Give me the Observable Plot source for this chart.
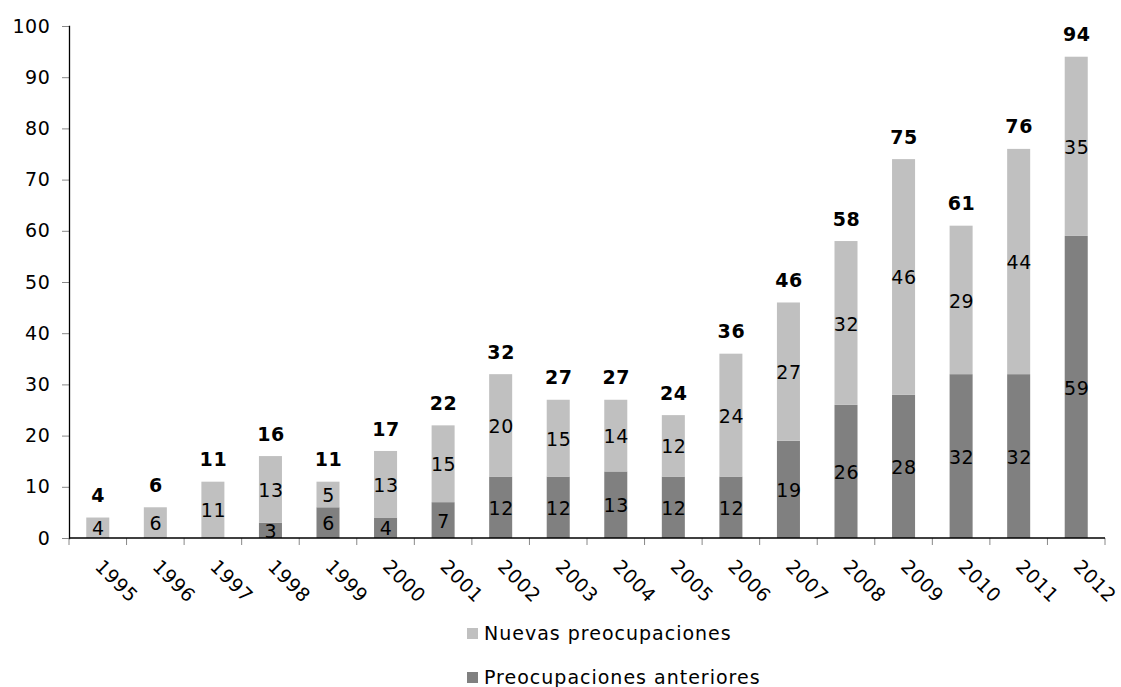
<!DOCTYPE html>
<html>
<head>
<meta charset="utf-8">
<script src="https://cdn.jsdelivr.net/npm/d3@7"></script>
<script src="https://cdn.jsdelivr.net/npm/@observablehq/plot@0.6"></script>
<style>
  body { margin: 0; background: #fff; font-family: "DejaVu Sans", Verdana, sans-serif; }
  #wrap { position: relative; width: 1121px; height: 687px; }
  .legend { position: absolute; left: 467px; font-size: 19px; letter-spacing: 1px; color: #000; display: flex; align-items: center; line-height: 24px; }
  .sw { width: 11px; height: 11px; margin-right: 6px; display: inline-block; }
</style>
</head>
<body>
<div id="wrap"></div>
<script>
const years = ["1995","1996","1997","1998","1999","2000","2001","2002","2003","2004","2005","2006","2007","2008","2009","2010","2011","2012"];
const anteriores = [0,0,0,3,6,4,7,12,12,13,12,12,19,26,28,32,32,59];
const nuevas = [4,6,11,13,5,13,15,20,15,14,12,24,27,32,46,29,44,35];
const totals = [4,6,11,16,11,17,22,32,27,27,24,36,46,58,75,61,76,94];
const seriesNames = ["Preocupaciones anteriores", "Nuevas preocupaciones"];
const seriesColors = ["#808080", "#c0c0c0"];
const yTicks = [0,10,20,30,40,50,60,70,80,90,100];

const data = [];
years.forEach((y, i) => {
  data.push({year: y, series: seriesNames[0], value: anteriores[i]});
  data.push({year: y, series: seriesNames[1], value: nuevas[i]});
});
const totalData = years.map((y, i) => ({year: y, stackTop: anteriores[i] + nuevas[i], total: totals[i]}));

function boundaryTicks(index, scales, values, dimensions) {
  const g = d3.create("svg:g");
  const x = scales.x;
  const step = x.step();
  const y0 = scales.y(0);
  const dom = x.domain();
  const gap = (step - x.bandwidth()) / 2;
  const xs = dom.map(d => x(d) - gap);
  xs.push(x(dom[dom.length - 1]) + x.bandwidth() + gap);
  xs.forEach(px => {
    g.append("line").attr("x1", px).attr("x2", px).attr("y1", y0).attr("y2", y0 + 7)
      .attr("stroke", "#888").attr("stroke-width", 1);
  });
  g.append("line").attr("x1", xs[0]).attr("x2", xs[xs.length - 1]).attr("y1", y0).attr("y2", y0)
    .attr("stroke", "#000").attr("stroke-width", 1.3);
  return g.node();
}

const chart = Plot.plot({
  width: 1121,
  height: 600,
  marginLeft: 69,
  marginRight: 16,
  marginTop: 26,
  marginBottom: 62,
  style: "font-family: 'DejaVu Sans', Verdana, sans-serif; font-size: 19px; letter-spacing: 0.6px; color: #000; background: #fff; overflow: visible;",
  x: {domain: years, paddingInner: 0.6, paddingOuter: 0.3, round: false, label: null},
  y: {domain: [0, 100], label: null},
  color: {domain: seriesNames, range: seriesColors},
  marks: [
    Plot.barY(data, {x: "year", y: "value", fill: "series", order: seriesNames}),
    Plot.text(data.filter(d => d.value > 0), Plot.stackY({x: "year", y: "value", z: "series", text: "value", order: seriesNames, fill: "#000", fontSize: 19, dy: 1})),
    Plot.text(totalData, {x: "year", y: "stackTop", text: "total", dy: -22, fontWeight: "bold", fontSize: 19, fill: "#000"}),
    Plot.axisY({ticks: yTicks, tickSize: 7, tickPadding: 12, stroke: "#888", fontSize: 19, label: null}),
    Plot.axisX({tickSize: 0, tickRotate: 45, tickPadding: 25, fontSize: 19, label: null}),
    Plot.frame({anchor: "left", stroke: "#000", strokeWidth: 1.3}),
    boundaryTicks
  ]
});
document.getElementById("wrap").appendChild(chart);

const wrap = document.getElementById("wrap");
[[1, 621], [0, 665]].forEach(([i, top]) => {
  const div = document.createElement("div");
  div.className = "legend";
  div.style.top = top + "px";
  div.innerHTML = `<span class="sw" style="background:${seriesColors[i]}"></span><span>${seriesNames[i]}</span>`;
  wrap.appendChild(div);
});
</script>
</body>
</html>
